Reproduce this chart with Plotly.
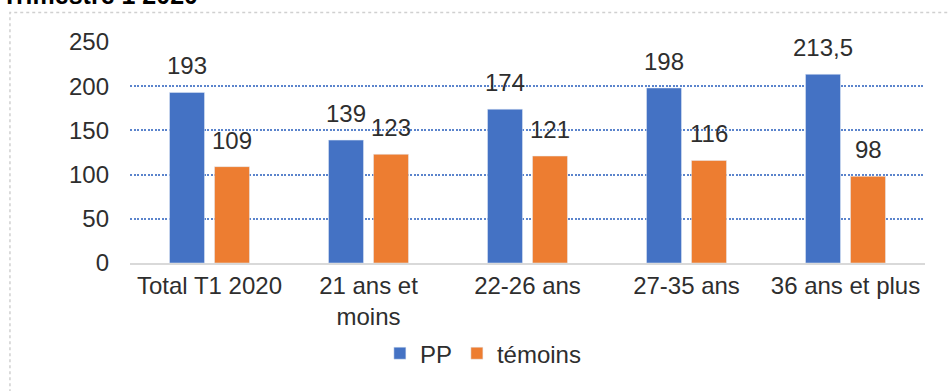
import plotly.graph_objects as go

categories = ["Total T1 2020", "21 ans et<br>moins", "22-26 ans", "27-35 ans", "36 ans et plus"]
pp_values = [193, 139, 174, 198, 213.5]
temoins_values = [109, 123, 121, 116, 98]
y_ticks = [0, 50, 100, 150, 200, 250]

BLUE = "#4472C4"
ORANGE = "#ED7D31"
TEXT = "#2E2E2E"
FONT = "Liberation Sans, Arial, sans-serif"
SIZE = 24


def fmt(v):
    return f"{v:g}".replace(".", ",")


fig = go.Figure()
fig.add_trace(go.Bar(x=categories, y=pp_values, name="PP", marker_color=BLUE))
fig.add_trace(go.Bar(x=categories, y=temoins_values, name="témoins", marker_color=ORANGE))

# value labels above each bar (shifted to the left/right bar of the group)
for vals, shift in ((pp_values, -22.5), (temoins_values, 22.5)):
    for c, v in zip(categories, vals):
        fig.add_annotation(x=c, y=v, text=fmt(v), showarrow=False, xshift=shift,
                           yanchor="bottom", yshift=11,
                           font=dict(size=SIZE, color=TEXT, family=FONT))

# chart title, partly above the page edge
fig.add_annotation(text="<b>Trimestre 1 2020</b>", xref="paper", yref="paper",
                   x=-0.164, y=1.14, xanchor="left", yanchor="bottom", showarrow=False,
                   font=dict(size=25, color="#000000", family=FONT))

# dotted chart frame
fig.add_shape(type="rect", xref="paper", yref="paper", x0=-0.151, x1=1.2, y0=-0.8, y1=1.133,
              line=dict(color="#D0D0D0", width=1.5, dash="dot"), layer="below")

fig.update_layout(
    width=949, height=391,
    margin=dict(l=130, r=24, t=41.5, b=127.5),
    paper_bgcolor="white", plot_bgcolor="white",
    barmode="group", bargap=0.434, bargroupgap=0.222,
    font=dict(family=FONT, size=SIZE, color=TEXT),
    showlegend=True,
    legend=dict(orientation="h", x=0.4445, xanchor="center", y=-0.41, yanchor="middle",
                font=dict(size=SIZE, color=TEXT), itemwidth=30, traceorder="normal"),
)
fig.update_xaxes(showgrid=False, showline=True, linecolor="#D9D9D9", linewidth=2,
                 ticks="", tickfont=dict(size=SIZE, color=TEXT))
fig.update_yaxes(range=[0, 250], tickvals=y_ticks, showgrid=True, gridcolor="#5B84CC",
                 griddash="2px,1.5px", gridwidth=1.5, zeroline=False, showline=False,
                 ticklabelstandoff=20, tickfont=dict(size=SIZE, color=TEXT))

fig.write_html("out.html")
